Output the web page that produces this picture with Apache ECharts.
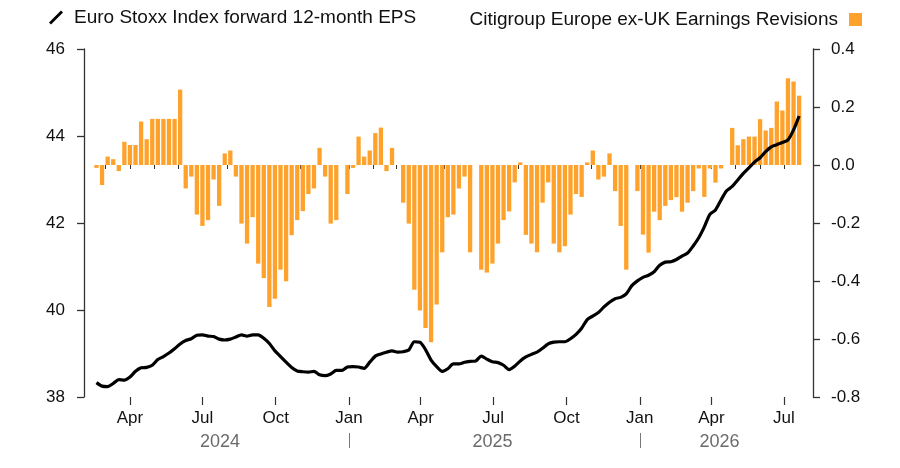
<!DOCTYPE html>
<html>
<head>
<meta charset="utf-8">
<script src="https://cdn.jsdelivr.net/npm/echarts@6/dist/echarts.min.js"></script>
<style>
html,body{margin:0;padding:0;background:#fff;}
#chart{width:900px;height:468px;}
</style>
</head>
<body>
<div id="chart"></div>
<script>
// ---- Data ----
var seriesNames = ['Euro Stoxx Index forward 12-month EPS', 'Citigroup Europe ex-UK Earnings Revisions'];
var firstWeek = '2024-02-19'; // weekly observations start
var revisions = [
 -0.01,-0.069,0.029,0.02,-0.021,0.08,0.069,0.069,0.15,0.089,
 0.159,0.159,0.159,0.159,0.159,0.26,-0.081,-0.04,-0.171,-0.21,
 -0.19,-0.05,-0.141,0.04,0.05,-0.04,-0.202,-0.271,-0.18,-0.34,
 -0.39,-0.49,-0.461,-0.361,-0.401,-0.242,-0.19,-0.159,-0.10,-0.081,
 0.059,-0.04,-0.202,-0.19,0,-0.10,-0.01,0.098,0.029,0.05,
 0.11,0.129,-0.021,0.059,0,-0.13,-0.202,-0.43,-0.502,-0.562,
 -0.611,-0.481,-0.301,-0.18,-0.171,-0.081,-0.04,-0.301,0,-0.361,
 -0.371,-0.34,-0.271,-0.19,-0.16,-0.06,0.009,-0.241,-0.271,-0.301,
 -0.13,-0.06,-0.271,-0.301,-0.28,-0.171,-0.10,-0.11,0.009,0.05,
 -0.05,-0.04,0.04,-0.09,-0.21,-0.361,0,-0.09,-0.24,-0.302,
 -0.161,-0.19,-0.141,-0.121,-0.111,-0.161,-0.13,-0.09,-0.012,-0.11,
 -0.012,-0.061,-0.012,0,0.128,0.068,0.089,0.098,0.098,0.158,
 0.119,0.128,0.219,0.188,0.299,0.288,0.239
];
var eps = [
 38.33,38.25,38.24,38.31,38.40,38.39,38.46,38.59,38.67,38.68,
 38.73,38.86,38.93,39.01,39.11,39.22,39.30,39.34,39.42,39.43,
 39.40,39.39,39.33,39.31,39.33,39.38,39.43,39.40,39.43,39.43,
 39.35,39.23,39.06,38.93,38.80,38.68,38.60,38.58,38.57,38.59,
 38.51,38.49,38.53,38.61,38.61,38.69,38.70,38.69,38.66,38.80,
 38.94,38.99,39.03,39.06,39.03,39.04,39.08,39.27,39.26,39.09,
 38.85,38.70,38.59,38.65,38.76,38.76,38.80,38.82,38.83,38.94,
 38.87,38.81,38.79,38.73,38.63,38.71,38.83,38.92,38.98,39.03,
 39.12,39.22,39.26,39.27,39.27,39.34,39.44,39.58,39.78,39.86,
 39.94,40.07,40.18,40.26,40.29,40.37,40.56,40.67,40.75,40.80,
 40.88,41.03,41.10,41.11,41.16,41.24,41.31,41.47,41.66,41.91,
 42.20,42.30,42.53,42.74,42.84,42.99,43.14,43.27,43.40,43.50,
 43.64,43.75,43.80,43.85,43.91,44.14,44.46
];
var monthTicks = ['2024-03-01','2024-04-01','2024-05-01','2024-06-01','2024-07-01','2024-08-01','2024-09-01','2024-10-01','2024-11-01','2024-12-01',
 '2025-01-01','2025-02-01','2025-03-01','2025-04-01','2025-05-01','2025-06-01','2025-07-01','2025-08-01','2025-09-01','2025-10-01','2025-11-01','2025-12-01',
 '2026-01-01','2026-02-01','2026-03-01','2026-04-01','2026-05-01','2026-06-01','2026-07-01'];
var quarterTicks = ['2024-04-01','2024-07-01','2024-10-01','2025-01-01','2025-04-01','2025-07-01','2025-10-01','2026-01-01','2026-04-01','2026-07-01'];
var monthNames = ['Jan','Feb','Mar','Apr','May','Jun','Jul','Aug','Sep','Oct','Nov','Dec'];
var yearSeparators = ['2025-01-01','2026-01-01'];
var yearLabelDates = ['2024-07-23','2025-06-30','2026-04-11'];
var leftTicks = {min:38, max:46, interval:2};
var rightTicks = {min:-0.8, max:0.4, interval:0.2};
var axisRange = ['2024-02-03T08:00:00Z','2026-08-06T10:00:00Z'];

// ---- Build ----
function ts(s){ return (s.length===10) ? Date.parse(s+'T00:00:00Z') : Date.parse(s); }
var start = ts(firstWeek);
var weeks = revisions.map(function(_, i){ return start + i*7*86400000; });
var barData = revisions.map(function(v,i){ return [weeks[i], v]; });
var lineData = eps.map(function(v,i){ return [weeks[i], v]; });
var xMin = ts(axisRange[0]), xMax = ts(axisRange[1]);
var FONT = "'Liberation Sans', Arial, Helvetica, sans-serif";
var AX = '#333';

var chart = echarts.init(document.getElementById('chart'), null, {renderer:'canvas'});
chart.setOption({
  animation:false,
  backgroundColor:'#fff',
  textStyle:{fontFamily:FONT},
  grid:{left:84, right:87, top:49, bottom:71, containLabel:false},
  legend:[
    {data:[{name:seriesNames[0], icon:'path://M0,12 L2,14 L14,2 L12,0 Z'}],
     left:44, top:3, itemWidth:14, itemHeight:14, selectedMode:false,
     textStyle:{fontSize:19, color:'#111', fontFamily:FONT, padding:[0,0,0,6]}},
    {data:[{name:seriesNames[1], icon:'rect'}],
     right:33, top:5, align:'right', itemWidth:13, itemHeight:13, selectedMode:false,
     textStyle:{fontSize:19, color:'#111', fontFamily:FONT, padding:[0,6,0,0]}}
  ],
  xAxis:[
    {type:'value', min:xMin, max:xMax, position:'bottom', scale:true,
     axisLine:{show:false}, splitLine:{show:false},
     axisTick:{show:true, length:4, customValues:monthTicks.map(ts), lineStyle:{color:AX, width:1}},
     axisLabel:{show:true, customValues:quarterTicks.map(ts), margin:13, fontSize:17, color:'#111', fontFamily:FONT,
       formatter:function(v){ return monthNames[new Date(v).getUTCMonth()]; }}},
    {type:'value', min:xMin, max:xMax, position:'bottom', scale:true,
     axisLine:{show:false}, splitLine:{show:false},
     axisTick:{show:true, length:8, customValues:quarterTicks.map(ts), lineStyle:{color:AX, width:1.2}},
     axisLabel:{show:false}},
    {type:'value', min:xMin, max:xMax, position:'bottom', offset:36, scale:true,
     axisLine:{show:false}, splitLine:{show:false},
     axisTick:{show:true, length:15, customValues:yearSeparators.map(ts), lineStyle:{color:'#777', width:1}},
     axisLabel:{show:true, customValues:yearLabelDates.map(ts), margin:0, fontSize:18, color:'#6b6b6b', fontFamily:FONT,
       formatter:function(v){ return String(new Date(v).getUTCFullYear()); }}}
  ],
  yAxis:[
    {type:'value', position:'left', min:leftTicks.min, max:leftTicks.max, interval:leftTicks.interval,
     axisLine:{show:true, lineStyle:{color:AX, width:1.3}},
     axisTick:{show:true, length:7, lineStyle:{color:AX, width:1.3}},
     splitLine:{show:false},
     axisLabel:{margin:19, fontSize:17, color:'#111', fontFamily:FONT}},
    {type:'value', position:'right', min:rightTicks.min, max:rightTicks.max, interval:rightTicks.interval,
     axisLine:{show:true, lineStyle:{color:AX, width:1.3}},
     axisTick:{show:true, length:7, lineStyle:{color:AX, width:1.3}},
     splitLine:{show:false},
     axisLabel:{margin:18, fontSize:17, color:'#111', fontFamily:FONT,
       formatter:function(v){ return (Math.round(v*10)/10).toFixed(1); }}}
  ],
  series:[
    {name:seriesNames[1], type:'bar', xAxisIndex:0, yAxisIndex:1, data:barData, barWidth:4.3,
     itemStyle:{color:'#FFA22B'}, z:2},
    {name:seriesNames[0], type:'line', xAxisIndex:0, yAxisIndex:0, data:lineData, smooth:0.25,
     showSymbol:false, symbol:'none', lineStyle:{color:'#000', width:3.2}, itemStyle:{color:'#000'}, z:5}
  ]
});
</script>
</body>
</html>
